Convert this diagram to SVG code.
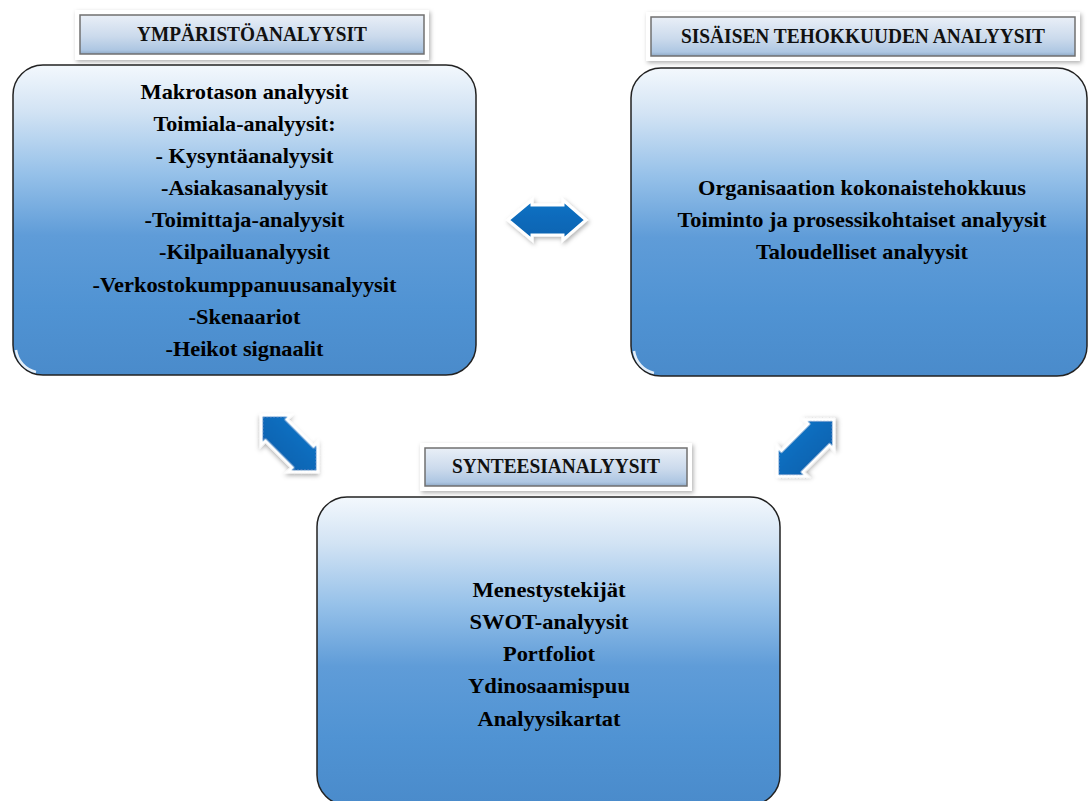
<svg xmlns="http://www.w3.org/2000/svg" width="1088" height="801" viewBox="0 0 1088 801">
<style>
.body{font-family:"Liberation Serif","Times New Roman",serif;font-weight:bold;font-size:21px;fill:#000;text-anchor:middle}
.title{font-family:"Liberation Serif","Times New Roman",serif;font-weight:bold;font-size:20px;fill:#111;text-anchor:middle}
.main{fill:url(#gMain);stroke:#222;stroke-width:1.5}
.tframe{fill:#fff;filter:url(#softShadow)}
.tbox{fill:url(#gTitle);stroke:#707070;stroke-width:1.5}
.gloss{fill:none;stroke:#fff;stroke-width:2.5;stroke-opacity:0.85}
.arrow{fill:url(#gArrow);stroke:#fff;stroke-width:3;stroke-linejoin:miter;filter:url(#softShadow)}
</style>
<defs>
<linearGradient id="gMain" x1="0" y1="0" x2="0" y2="1">
<stop offset="0" stop-color="#f3f8fd"/>
<stop offset="0.15" stop-color="#d2e3f4"/>
<stop offset="0.35" stop-color="#96c1e9"/>
<stop offset="0.55" stop-color="#5f9cd8"/>
<stop offset="0.78" stop-color="#5093d3"/>
<stop offset="1" stop-color="#4a8bcb"/>
</linearGradient>
<linearGradient id="gTitle" x1="0" y1="0" x2="0" y2="1">
<stop offset="0" stop-color="#e9eff7"/>
<stop offset="0.55" stop-color="#cbdaec"/>
<stop offset="0.9" stop-color="#adc6e2"/>
<stop offset="1" stop-color="#8fa9c6"/>
</linearGradient>
<linearGradient id="gArrow" x1="0" y1="0" x2="0" y2="1">
<stop offset="0" stop-color="#0b72c4"/>
<stop offset="1" stop-color="#0662b0"/>
</linearGradient>
<filter id="softShadow" x="-20%" y="-30%" width="140%" height="160%">
<feDropShadow dx="1.5" dy="2" stdDeviation="2" flood-color="#000" flood-opacity="0.3"/>
</filter>
</defs>

<g id="ymparisto">
<rect class="tframe" x="75" y="10" width="354" height="50"/>
<rect class="tbox" x="80" y="15" width="344" height="39"/>
<text class="title" x="252" y="41" textLength="230" lengthAdjust="spacingAndGlyphs">YMPÄRISTÖANALYYSIT</text>
<rect class="main" x="13" y="65" width="463" height="310" rx="30" ry="30"/>
<path class="gloss" d="M16,350 A26,26 0 0 0 36,372"/>
<text class="body" x="244.5" y="99" textLength="208" lengthAdjust="spacingAndGlyphs">Makrotason analyysit</text>
<text class="body" x="244.5" y="131" textLength="182" lengthAdjust="spacingAndGlyphs">Toimiala-analyysit:</text>
<text class="body" x="244.5" y="163" textLength="178" lengthAdjust="spacingAndGlyphs">- Kysyntäanalyysit</text>
<text class="body" x="244.5" y="195" textLength="167" lengthAdjust="spacingAndGlyphs">-Asiakasanalyysit</text>
<text class="body" x="244.5" y="227" textLength="200" lengthAdjust="spacingAndGlyphs">-Toimittaja-analyysit</text>
<text class="body" x="244.5" y="259" textLength="171" lengthAdjust="spacingAndGlyphs">-Kilpailuanalyysit</text>
<text class="body" x="244.5" y="292" textLength="304" lengthAdjust="spacingAndGlyphs">-Verkostokumppanuusanalyysit</text>
<text class="body" x="244.5" y="324" textLength="112" lengthAdjust="spacingAndGlyphs">-Skenaariot</text>
<text class="body" x="244.5" y="356" textLength="158" lengthAdjust="spacingAndGlyphs">-Heikot signaalit</text>
</g>

<g id="sisainen">
<rect class="tframe" x="646" y="12" width="434" height="49"/>
<rect class="tbox" x="651" y="17" width="424" height="39"/>
<text class="title" x="863" y="43" textLength="364" lengthAdjust="spacingAndGlyphs">SISÄISEN TEHOKKUUDEN ANALYYSIT</text>
<rect class="main" x="631" y="68" width="456" height="308" rx="30" ry="30"/>
<path class="gloss" d="M634,351 A26,26 0 0 0 654,373"/>
<text class="body" x="862" y="195" textLength="328" lengthAdjust="spacingAndGlyphs">Organisaation kokonaistehokkuus</text>
<text class="body" x="862" y="227" textLength="369" lengthAdjust="spacingAndGlyphs">Toiminto ja prosessikohtaiset analyysit</text>
<text class="body" x="862" y="259" textLength="212" lengthAdjust="spacingAndGlyphs">Taloudelliset analyysit</text>
</g>

<g id="synteesi">
<rect class="tframe" x="420" y="443" width="272" height="48"/>
<rect class="tbox" x="425" y="448" width="262" height="38"/>
<text class="title" x="556" y="473" textLength="208" lengthAdjust="spacingAndGlyphs">SYNTEESIANALYYSIT</text>
<rect class="main" x="317" y="497" width="463" height="308" rx="30" ry="30"/>
<text class="body" x="549" y="597" textLength="153" lengthAdjust="spacingAndGlyphs">Menestystekijät</text>
<text class="body" x="549" y="629" textLength="159" lengthAdjust="spacingAndGlyphs">SWOT-analyysit</text>
<text class="body" x="549" y="661" textLength="92" lengthAdjust="spacingAndGlyphs">Portfoliot</text>
<text class="body" x="549" y="693" textLength="162" lengthAdjust="spacingAndGlyphs">Ydinosaamispuu</text>
<text class="body" x="549" y="726" textLength="143" lengthAdjust="spacingAndGlyphs">Analyysikartat</text>
</g>

<g id="connectors">
<path id="arrow-ymparisto-sisainen" class="arrow" d="M508,220 L532,200 L532,205 L563,205 L563,200 L586,220 L563,240 L563,235 L532,235 L532,240 Z"/>
<path id="arrow-ymparisto-synteesi" class="arrow" transform="translate(289.5,443.5) rotate(45)" d="M-40,0 L-19,-21 L-19,-15 L19,-15 L19,-21 L40,0 L19,21 L19,15 L-19,15 L-19,21 Z"/>
<path id="arrow-sisainen-synteesi" class="arrow" transform="translate(805.5,448) rotate(-45)" d="M-40,0 L-19,-21 L-19,-15 L19,-15 L19,-21 L40,0 L19,21 L19,15 L-19,15 L-19,21 Z"/>
</g>
</svg>
